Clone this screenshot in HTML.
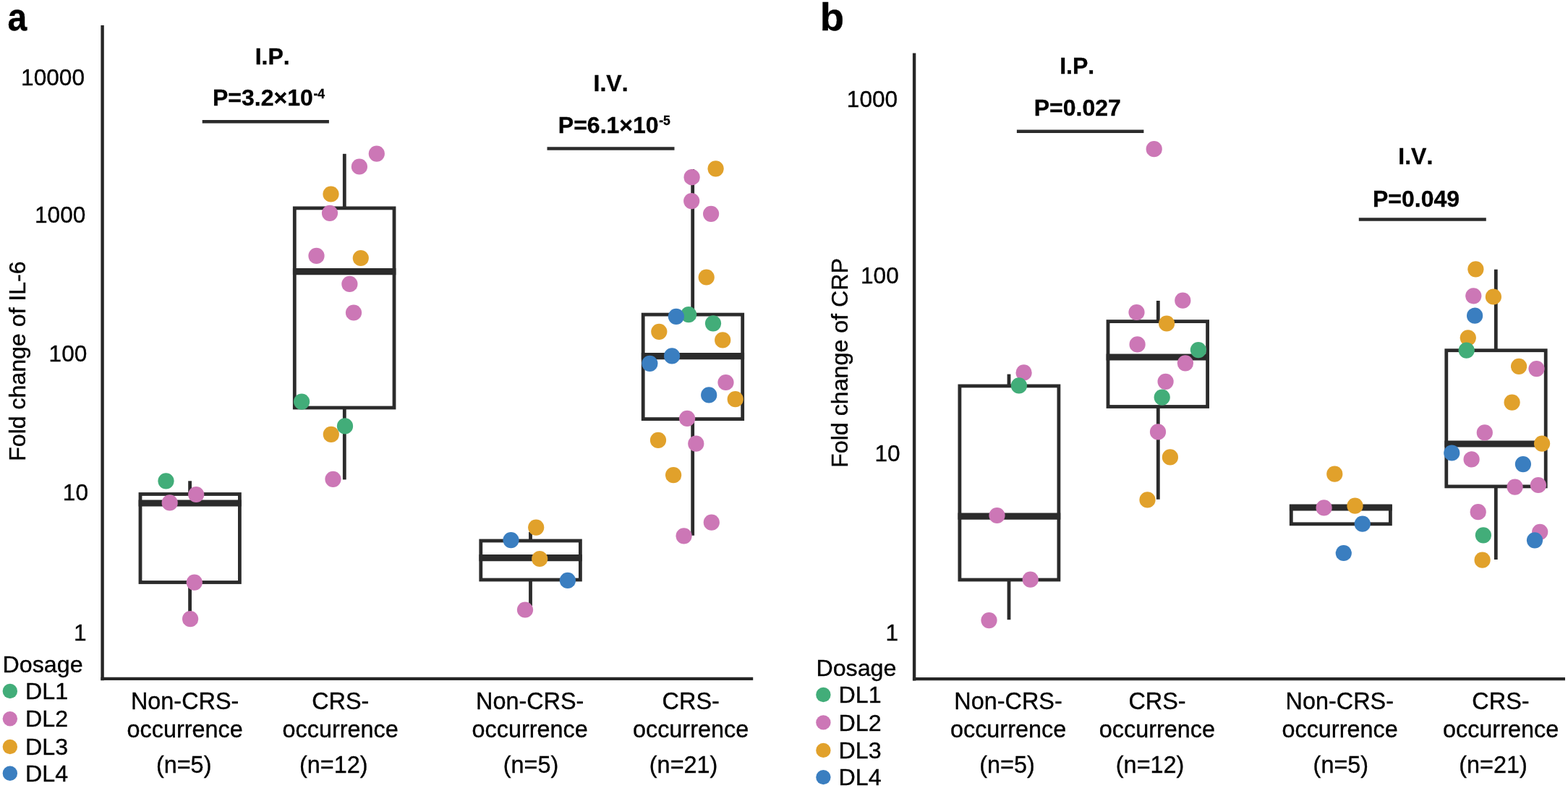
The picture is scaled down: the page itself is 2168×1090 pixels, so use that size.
<!DOCTYPE html>
<html><head><meta charset="utf-8"><title>Fold change of IL-6 and CRP</title>
<style>
html,body{margin:0;padding:0;background:#fff;}
svg{display:block;}
text{font-family:"Liberation Sans",Arial,sans-serif;fill:#000;font-kerning:none;stroke:#000;stroke-width:0.35px;}
</style></head><body>
<svg width="2168" height="1090" viewBox="0 0 2168 1090">
<rect width="2168" height="1090" fill="#fff"/>
<text transform="translate(10.60,42.18) scale(0.9,1)" style="font-size:53.5px;font-weight:bold;">a</text>
<line x1="141.6" y1="35" x2="141.6" y2="941.2" stroke="#262626" stroke-width="4.4"/>
<line x1="139.45" y1="938.9" x2="1041.2" y2="938.9" stroke="#262626" stroke-width="4.4"/>
<text x="29.12" y="118.35" style="font-size:31.6px;">10000</text>
<text x="48.05" y="308.05" style="font-size:31.6px;">1000</text>
<text x="67.59" y="499.50" style="font-size:31.6px;">100</text>
<text x="86.83" y="691.95" style="font-size:31.6px;">10</text>
<text x="101.96" y="885.65" style="font-size:31.6px;">1</text>
<text transform="translate(35.40,637.78) rotate(-90)" style="font-size:32.1px">Fold change of IL-6</text>
<text x="352.73" y="88.99" style="font-size:32px;font-weight:bold;">I.P.</text>
<text x="293.99" y="146.29" style="font-size:32px;font-weight:bold;">P=3.2×10</text>
<text x="433.51" y="135.90" style="font-size:17.5px;font-weight:bold;">-4</text>
<line x1="279.7" y1="168.3" x2="454.9" y2="168.3" stroke="#2b2b2b" stroke-width="4.5"/>
<text x="820.58" y="126.24" style="font-size:32px;font-weight:bold;">I.V.</text>
<text x="771.84" y="183.89" style="font-size:32px;font-weight:bold;">P=6.1×10</text>
<text x="911.25" y="172.80" style="font-size:17.5px;font-weight:bold;">-5</text>
<line x1="756.5" y1="205.6" x2="932.5" y2="205.6" stroke="#2b2b2b" stroke-width="4.5"/>
<line x1="262.6" y1="665.3" x2="262.6" y2="683.5" stroke="#2b2b2b" stroke-width="4.8"/>
<line x1="262.6" y1="805.5" x2="262.6" y2="846.7" stroke="#2b2b2b" stroke-width="4.8"/>
<rect x="194" y="683.5" width="137.39999999999998" height="122.0" fill="none" stroke="#2b2b2b" stroke-width="4.8"/>
<line x1="191.6" y1="696" x2="333.79999999999995" y2="696" stroke="#2b2b2b" stroke-width="9.2"/>
<line x1="476.3" y1="212.8" x2="476.3" y2="287.9" stroke="#2b2b2b" stroke-width="4.8"/>
<line x1="476.3" y1="564" x2="476.3" y2="663.4" stroke="#2b2b2b" stroke-width="4.8"/>
<rect x="407.3" y="287.9" width="137.7" height="276.1" fill="none" stroke="#2b2b2b" stroke-width="4.8"/>
<line x1="404.90000000000003" y1="375.7" x2="547.4" y2="375.7" stroke="#2b2b2b" stroke-width="9.2"/>
<line x1="733.5" y1="735.9" x2="733.5" y2="748" stroke="#2b2b2b" stroke-width="4.8"/>
<line x1="733.5" y1="802" x2="733.5" y2="838" stroke="#2b2b2b" stroke-width="4.8"/>
<rect x="664.8" y="748" width="137.60000000000002" height="54" fill="none" stroke="#2b2b2b" stroke-width="4.8"/>
<line x1="662.4" y1="771.6" x2="804.8" y2="771.6" stroke="#2b2b2b" stroke-width="9.2"/>
<line x1="957.7" y1="234" x2="957.7" y2="435.1" stroke="#2b2b2b" stroke-width="4.8"/>
<line x1="957.7" y1="579.6" x2="957.7" y2="740.7" stroke="#2b2b2b" stroke-width="4.8"/>
<rect x="889.2" y="435.1" width="137.5" height="144.5" fill="none" stroke="#2b2b2b" stroke-width="4.8"/>
<line x1="886.8000000000001" y1="492.7" x2="1029.1000000000001" y2="492.7" stroke="#2b2b2b" stroke-width="9.2"/>
<circle cx="229.5" cy="665.3" r="11.1" fill="#42ad79"/>
<circle cx="271.2" cy="684" r="11.1" fill="#cc77b6"/>
<circle cx="234.7" cy="695.4" r="11.1" fill="#cc77b6"/>
<circle cx="268.8" cy="805.6" r="11.1" fill="#cc77b6"/>
<circle cx="263.1" cy="856.2" r="11.1" fill="#cc77b6"/>
<circle cx="520.8" cy="212.6" r="11.1" fill="#cc77b6"/>
<circle cx="496.9" cy="230.5" r="11.1" fill="#cc77b6"/>
<circle cx="457.5" cy="268.5" r="11.1" fill="#e1a12b"/>
<circle cx="456" cy="294.8" r="11.1" fill="#cc77b6"/>
<circle cx="437.5" cy="353.9" r="11.1" fill="#cc77b6"/>
<circle cx="498.8" cy="357" r="11.1" fill="#e1a12b"/>
<circle cx="483.4" cy="392.9" r="11.1" fill="#cc77b6"/>
<circle cx="489" cy="432.5" r="11.1" fill="#cc77b6"/>
<circle cx="417.1" cy="555.6" r="11.1" fill="#42ad79"/>
<circle cx="457.8" cy="600.9" r="11.1" fill="#e1a12b"/>
<circle cx="477" cy="589.4" r="11.1" fill="#42ad79"/>
<circle cx="460.5" cy="662.8" r="11.1" fill="#cc77b6"/>
<circle cx="741.2" cy="729.6" r="11.1" fill="#e1a12b"/>
<circle cx="706.5" cy="747.1" r="11.1" fill="#3a7ec0"/>
<circle cx="746.2" cy="773" r="11.1" fill="#e1a12b"/>
<circle cx="784.9" cy="802.9" r="11.1" fill="#3a7ec0"/>
<circle cx="726" cy="843.5" r="11.1" fill="#cc77b6"/>
<circle cx="989.6" cy="233.3" r="11.1" fill="#e1a12b"/>
<circle cx="956.6" cy="245.2" r="11.1" fill="#cc77b6"/>
<circle cx="956.2" cy="278.1" r="11.1" fill="#cc77b6"/>
<circle cx="983.1" cy="295.8" r="11.1" fill="#cc77b6"/>
<circle cx="976.7" cy="383.5" r="11.1" fill="#e1a12b"/>
<circle cx="952.1" cy="435.2" r="11.1" fill="#42ad79"/>
<circle cx="934.9" cy="437.8" r="11.1" fill="#3a7ec0"/>
<circle cx="986" cy="447.3" r="11.1" fill="#42ad79"/>
<circle cx="911.3" cy="458.8" r="11.1" fill="#e1a12b"/>
<circle cx="999.2" cy="470.4" r="11.1" fill="#e1a12b"/>
<circle cx="929.1" cy="492.4" r="11.1" fill="#3a7ec0"/>
<circle cx="898.4" cy="502.9" r="11.1" fill="#3a7ec0"/>
<circle cx="1003.5" cy="529" r="11.1" fill="#cc77b6"/>
<circle cx="980.2" cy="546.4" r="11.1" fill="#3a7ec0"/>
<circle cx="1016.7" cy="552.2" r="11.1" fill="#e1a12b"/>
<circle cx="950.1" cy="578.9" r="11.1" fill="#cc77b6"/>
<circle cx="910" cy="608.9" r="11.1" fill="#e1a12b"/>
<circle cx="962.3" cy="613.7" r="11.1" fill="#cc77b6"/>
<circle cx="931.1" cy="657.2" r="11.1" fill="#e1a12b"/>
<circle cx="983.8" cy="722.7" r="11.1" fill="#cc77b6"/>
<circle cx="945.6" cy="741.3" r="11.1" fill="#cc77b6"/>
<text x="180.95" y="981.30" style="font-size:32.4px;">Non-CRS-</text>
<text x="175.49" y="1019.80" style="font-size:32.4px;">occurrence</text>
<text x="215.92" y="1069.30" style="font-size:32.4px;">(n=5)</text>
<text x="431.16" y="981.30" style="font-size:32.4px;">CRS-</text>
<text x="390.54" y="1019.80" style="font-size:32.4px;">occurrence</text>
<text x="413.98" y="1069.30" style="font-size:32.4px;">(n=12)</text>
<text x="658.00" y="981.30" style="font-size:32.4px;">Non-CRS-</text>
<text x="652.54" y="1019.80" style="font-size:32.4px;">occurrence</text>
<text x="695.72" y="1069.30" style="font-size:32.4px;">(n=5)</text>
<text x="915.61" y="981.30" style="font-size:32.4px;">CRS-</text>
<text x="874.94" y="1019.80" style="font-size:32.4px;">occurrence</text>
<text x="897.83" y="1069.30" style="font-size:32.4px;">(n=21)</text>
<text x="3.62" y="930.20" style="font-size:32.2px;">Dosage</text>
<circle cx="13.85" cy="955.95" r="10.2" fill="#42ad79"/>
<text x="35.12" y="967.06" style="font-size:32.2px;">DL1</text>
<circle cx="13.85" cy="994.2" r="10.2" fill="#cc77b6"/>
<text x="35.12" y="1005.47" style="font-size:32.2px;">DL2</text>
<circle cx="13.85" cy="1033.0" r="10.2" fill="#e1a12b"/>
<text x="35.12" y="1044.11" style="font-size:32.2px;">DL3</text>
<circle cx="13.85" cy="1069.8" r="10.2" fill="#3a7ec0"/>
<text x="35.12" y="1080.91" style="font-size:32.2px;">DL4</text>
<text transform="translate(1133.87,42.23) scale(1.02,1)" style="font-size:53.5px;font-weight:bold;">b</text>
<line x1="1264.1" y1="73.4" x2="1264.1" y2="941.4" stroke="#262626" stroke-width="4.4"/>
<line x1="1261.95" y1="939.1" x2="2164" y2="939.1" stroke="#262626" stroke-width="4.4"/>
<text x="1170.85" y="147.50" style="font-size:31.6px;">1000</text>
<text x="1189.99" y="392.30" style="font-size:31.6px;">100</text>
<text x="1209.43" y="637.85" style="font-size:31.6px;">10</text>
<text x="1224.46" y="885.80" style="font-size:31.6px;">1</text>
<text transform="translate(1172.00,646.88) rotate(-90)" style="font-size:32.2px">Fold change of CRP</text>
<text x="1465.13" y="102.24" style="font-size:32px;font-weight:bold;">I.P.</text>
<text x="1429.70" y="159.89" style="font-size:32px;font-weight:bold;">P=0.027</text>
<line x1="1405.9" y1="181.7" x2="1581.4" y2="181.7" stroke="#2b2b2b" stroke-width="4.5"/>
<text x="1933.28" y="226.99" style="font-size:32px;font-weight:bold;">I.V.</text>
<text x="1897.97" y="285.99" style="font-size:32px;font-weight:bold;">P=0.049</text>
<line x1="1878.8" y1="303.5" x2="2054.8" y2="303.5" stroke="#2b2b2b" stroke-width="4.5"/>
<line x1="1395" y1="517.6" x2="1395" y2="533.9" stroke="#2b2b2b" stroke-width="4.8"/>
<line x1="1395" y1="802" x2="1395" y2="857.2" stroke="#2b2b2b" stroke-width="4.8"/>
<rect x="1326.9" y="533.9" width="137.0" height="268.1" fill="none" stroke="#2b2b2b" stroke-width="4.8"/>
<line x1="1324.5" y1="714.2" x2="1466.3000000000002" y2="714.2" stroke="#2b2b2b" stroke-width="9.2"/>
<line x1="1601.3" y1="416" x2="1601.3" y2="444.6" stroke="#2b2b2b" stroke-width="4.8"/>
<line x1="1601.3" y1="562.5" x2="1601.3" y2="690.7" stroke="#2b2b2b" stroke-width="4.8"/>
<rect x="1532" y="444.6" width="137.5999999999999" height="117.89999999999998" fill="none" stroke="#2b2b2b" stroke-width="4.8"/>
<line x1="1529.6" y1="494" x2="1672.0" y2="494" stroke="#2b2b2b" stroke-width="9.2"/>
<rect x="1785.3" y="700.5" width="137.10000000000014" height="24.299999999999955" fill="none" stroke="#2b2b2b" stroke-width="4.8"/>
<line x1="1782.8999999999999" y1="702" x2="1924.8000000000002" y2="702" stroke="#2b2b2b" stroke-width="9.2"/>
<line x1="2068.3" y1="372.7" x2="2068.3" y2="484.7" stroke="#2b2b2b" stroke-width="4.8"/>
<line x1="2068.3" y1="672.9" x2="2068.3" y2="774" stroke="#2b2b2b" stroke-width="4.8"/>
<rect x="1999.8" y="484.7" width="137.39999999999986" height="188.2" fill="none" stroke="#2b2b2b" stroke-width="4.8"/>
<line x1="1997.3999999999999" y1="614" x2="2139.6" y2="614" stroke="#2b2b2b" stroke-width="9.2"/>
<circle cx="1415.6" cy="515.4" r="11.1" fill="#cc77b6"/>
<circle cx="1408.9" cy="533.4" r="11.1" fill="#42ad79"/>
<circle cx="1378.5" cy="713" r="11.1" fill="#cc77b6"/>
<circle cx="1424.7" cy="801.7" r="11.1" fill="#cc77b6"/>
<circle cx="1367.5" cy="858.1" r="11.1" fill="#cc77b6"/>
<circle cx="1595.7" cy="206.2" r="11.1" fill="#cc77b6"/>
<circle cx="1635.3" cy="415.7" r="11.1" fill="#cc77b6"/>
<circle cx="1571.5" cy="432" r="11.1" fill="#cc77b6"/>
<circle cx="1613.1" cy="447.5" r="11.1" fill="#e1a12b"/>
<circle cx="1572.6" cy="476.4" r="11.1" fill="#cc77b6"/>
<circle cx="1656.9" cy="484.1" r="11.1" fill="#42ad79"/>
<circle cx="1638.9" cy="502.4" r="11.1" fill="#cc77b6"/>
<circle cx="1611.6" cy="527.8" r="11.1" fill="#cc77b6"/>
<circle cx="1606.7" cy="549.6" r="11.1" fill="#42ad79"/>
<circle cx="1601" cy="597.4" r="11.1" fill="#cc77b6"/>
<circle cx="1617.9" cy="632.4" r="11.1" fill="#e1a12b"/>
<circle cx="1586.5" cy="691.4" r="11.1" fill="#e1a12b"/>
<circle cx="1845.3" cy="655.7" r="11.1" fill="#e1a12b"/>
<circle cx="1830.6" cy="702.4" r="11.1" fill="#cc77b6"/>
<circle cx="1873.5" cy="699.7" r="11.1" fill="#e1a12b"/>
<circle cx="1883.8" cy="724.7" r="11.1" fill="#3a7ec0"/>
<circle cx="1857.8" cy="765" r="11.1" fill="#3a7ec0"/>
<circle cx="2040.4" cy="372.3" r="11.1" fill="#e1a12b"/>
<circle cx="2037.3" cy="409.3" r="11.1" fill="#cc77b6"/>
<circle cx="2064.9" cy="410.5" r="11.1" fill="#e1a12b"/>
<circle cx="2039.1" cy="436.7" r="11.1" fill="#3a7ec0"/>
<circle cx="2029.8" cy="467.3" r="11.1" fill="#e1a12b"/>
<circle cx="2027.7" cy="484.6" r="11.1" fill="#42ad79"/>
<circle cx="2100.1" cy="506.9" r="11.1" fill="#e1a12b"/>
<circle cx="2124.5" cy="510.1" r="11.1" fill="#cc77b6"/>
<circle cx="2090.6" cy="556.6" r="11.1" fill="#e1a12b"/>
<circle cx="2052.8" cy="598.4" r="11.1" fill="#cc77b6"/>
<circle cx="2132.1" cy="613.6" r="11.1" fill="#e1a12b"/>
<circle cx="2007.3" cy="626.5" r="11.1" fill="#3a7ec0"/>
<circle cx="2034.6" cy="635.4" r="11.1" fill="#cc77b6"/>
<circle cx="2105.9" cy="642.1" r="11.1" fill="#3a7ec0"/>
<circle cx="2094.6" cy="673.6" r="11.1" fill="#cc77b6"/>
<circle cx="2126.9" cy="671" r="11.1" fill="#cc77b6"/>
<circle cx="2043.7" cy="708.2" r="11.1" fill="#cc77b6"/>
<circle cx="2050.9" cy="740.3" r="11.1" fill="#42ad79"/>
<circle cx="2129.2" cy="735.8" r="11.1" fill="#cc77b6"/>
<circle cx="2122" cy="747.3" r="11.1" fill="#3a7ec0"/>
<circle cx="2049.6" cy="774.7" r="11.1" fill="#e1a12b"/>
<text x="1319.30" y="981.30" style="font-size:32.4px;">Non-CRS-</text>
<text x="1313.94" y="1019.80" style="font-size:32.4px;">occurrence</text>
<text x="1354.27" y="1069.30" style="font-size:32.4px;">(n=5)</text>
<text x="1560.46" y="981.30" style="font-size:32.4px;">CRS-</text>
<text x="1519.74" y="1019.80" style="font-size:32.4px;">occurrence</text>
<text x="1542.83" y="1069.30" style="font-size:32.4px;">(n=12)</text>
<text x="1777.60" y="981.30" style="font-size:32.4px;">Non-CRS-</text>
<text x="1772.44" y="1019.80" style="font-size:32.4px;">occurrence</text>
<text x="1815.62" y="1069.30" style="font-size:32.4px;">(n=5)</text>
<text x="2035.36" y="981.30" style="font-size:32.4px;">CRS-</text>
<text x="1994.94" y="1019.80" style="font-size:32.4px;">occurrence</text>
<text x="2017.18" y="1069.30" style="font-size:32.4px;">(n=21)</text>
<text x="1128.42" y="935.30" style="font-size:32.2px;">Dosage</text>
<circle cx="1138.4" cy="961.0" r="10.2" fill="#42ad79"/>
<text x="1159.62" y="972.11" style="font-size:32.2px;">DL1</text>
<circle cx="1138.4" cy="999.4" r="10.2" fill="#cc77b6"/>
<text x="1159.62" y="1010.67" style="font-size:32.2px;">DL2</text>
<circle cx="1138.4" cy="1037.9" r="10.2" fill="#e1a12b"/>
<text x="1159.62" y="1049.01" style="font-size:32.2px;">DL3</text>
<circle cx="1138.4" cy="1075.1" r="10.2" fill="#3a7ec0"/>
<text x="1159.62" y="1086.21" style="font-size:32.2px;">DL4</text>
</svg>
</body></html>
